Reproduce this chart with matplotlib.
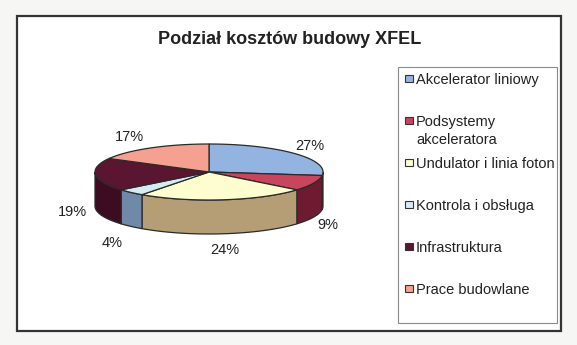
import numpy as np
import matplotlib.pyplot as plt
from matplotlib.patches import Polygon, Rectangle

# data
labels = ["Akcelerator liniowy", "Podsystemy\nakceleratora", "Undulator i linia foton",
          "Kontrola i obsługa", "Infrastruktura", "Prace budowlane"]
shares = [27, 9, 24, 4, 19, 17]
pct_labels = ["27%", "9%", "24%", "4%", "19%", "17%"]
top_colors = ["#93b4e0", "#c8455e", "#fdfdd0", "#d5ecf2", "#5a1530", "#f5a090"]
side_colors = ["#5a78a0", "#6e1a30", "#b59e76", "#6e8aa8", "#3e0c22", "#b06a5c"]
title = "Podział kosztów budowy XFEL"

# pie geometry in pixel coordinates (y goes down)
cx, cy = 209, 172
rx, ry = 114, 28
depth = 34
label_pos = [(310, 146), (328, 225), (225, 250), (112, 243), (72, 212), (129, 137)]

plt.rcParams["font.family"] = ["Liberation Sans", "DejaVu Sans"]
fig = plt.figure(figsize=(5.77, 3.45), dpi=100)
fig.patch.set_facecolor("#f6f6f4")
ax = fig.add_axes([0, 0, 1, 1])
ax.set_xlim(0, 577)
ax.set_ylim(345, 0)
ax.axis("off")

# chart frame
ax.add_patch(Rectangle((17, 16), 544, 315, facecolor="white", edgecolor="#333333", lw=1.6))
ax.text(290, 40, title, ha="center", va="center", fontsize=13, fontweight="bold", color="#222222")


def ell(theta_deg, dy=0):
    t = np.radians(theta_deg)
    return np.column_stack([cx + rx * np.cos(t), cy - ry * np.sin(t) + dy])


# slice angles, start at 12 o'clock and go clockwise
bounds = 90 - 360 * np.concatenate([[0], np.cumsum(shares)]) / sum(shares)

# side walls (front half only)
for i in range(len(shares)):
    a0, a1 = bounds[i], bounds[i + 1]
    lo, hi = max(a1, -180), min(a0, 0)
    if lo >= hi:
        continue
    th = np.linspace(hi, lo, 60)
    pts = np.vstack([ell(th), ell(th[::-1], depth)])
    ax.add_patch(Polygon(pts, closed=True, facecolor=side_colors[i], edgecolor="#2a2a2a", lw=0.9))

# top faces
for i in range(len(shares)):
    th = np.linspace(bounds[i], bounds[i + 1], 80)
    pts = np.vstack([[cx, cy], ell(th)])
    ax.add_patch(Polygon(pts, closed=True, facecolor=top_colors[i], edgecolor="#2a2a2a", lw=0.9))

for (x, y), s in zip(label_pos, pct_labels):
    ax.text(x, y, s, ha="center", va="center", fontsize=10.5, color="#222222")

# legend
ax.add_patch(Rectangle((398, 67), 159, 256, facecolor="white", edgecolor="#8a8a8a", lw=0.8))
for i, lab in enumerate(labels):
    y = 79 + 42 * i
    ax.add_patch(Rectangle((405, y - 4), 8, 7, facecolor=top_colors[i], edgecolor="#333333", lw=0.8))
    for k, line in enumerate(lab.split("\n")):
        ax.text(416, y + 5 + 18 * k, line, ha="left", va="baseline", fontsize=10.5, color="#222222")

fig.savefig("out.png", dpi=100, facecolor=fig.get_facecolor())
